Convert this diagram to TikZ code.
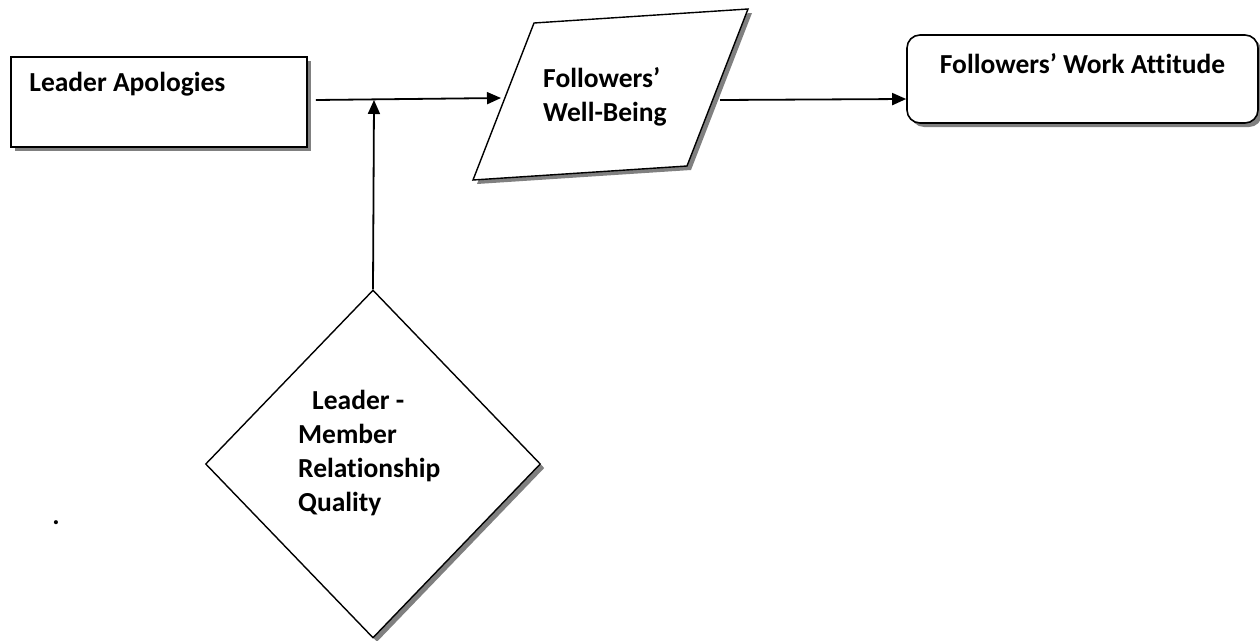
\documentclass[tikz,border=0pt]{standalone}
\usepackage{fontspec}
\setmainfont{Carlito}[Ligatures=NoCommon]
\usetikzlibrary{shapes.geometric,shadows,arrows.meta}
\tikzset{
  lbl/.style={font=\fontsize{27.5}{34}\selectfont\bfseries, inner sep=0pt},
  shd/.style={drop shadow={shadow xshift=4pt, shadow yshift=-4pt, fill=black!50, opacity=1}},
  boxsty/.style={draw=black, line width=1.6pt, fill=white, shd, inner sep=0pt},
  rbox/.style={boxsty, rounded corners=13pt},
  dia/.style={draw=black, line width=1.4pt, fill=white, shd, diamond, inner sep=0pt},
  arr/.style={line width=1.8pt, -{Triangle[length=14pt, width=12pt]}}
}
\begin{document}
\begin{tikzpicture}[x=1pt, y=-1pt]
\useasboundingbox[fill=white] (0,0) rectangle (1260,640);
% Leader Apologies
\node[boxsty, minimum width=296pt, minimum height=90pt,
  label={[lbl, anchor=base west, xshift=19pt, yshift=-35pt]north west:Leader Apologies}] (la) at (159,102) {};
% Followers' Work Attitude
\node[rbox, minimum width=351pt, minimum height=88pt,
  label={[lbl, anchor=base, yshift=-39pt]north:Followers’ Work Attitude}] (fwa) at (1082.5,79) {};
% Parallelogram (Followers' Well-Being)
\fill[black!50] (538,27) -- (752,13) -- (691,170) -- (477,184) -- cycle;
\draw[line width=1.4pt, fill=white, line join=miter] (534,23) -- (748,9) -- (687,166) -- (473,180) -- cycle;
\node[lbl, align=left, anchor=north west] (wb) at (543,67) {Followers’\\Well-Being};
\coordinate (wbin) at (501,98);
\coordinate (wbout) at (720,100);
% Diamond
\node[dia, minimum width=335pt, minimum height=348pt] (lmx) at (373,464) {};
\node[lbl, align=left, anchor=north west] (lmxt) at (298,390) {\hspace{14pt}Leader -\\Member\\Relationship\\Quality};
% stray dot
\node[lbl, anchor=base] (dot) at (56,524) {.};
% connectors
\coordinate (laout) at ([xshift=8pt, yshift=2pt]la.east);
\coordinate (jn) at (374,100);
\draw[arr] (laout) -- (wbin);
\draw[arr] (lmx.north) -- (jn);
\draw[arr] (wbout) -- ([yshift=-20pt]fwa.west);
\end{tikzpicture}
\end{document}
